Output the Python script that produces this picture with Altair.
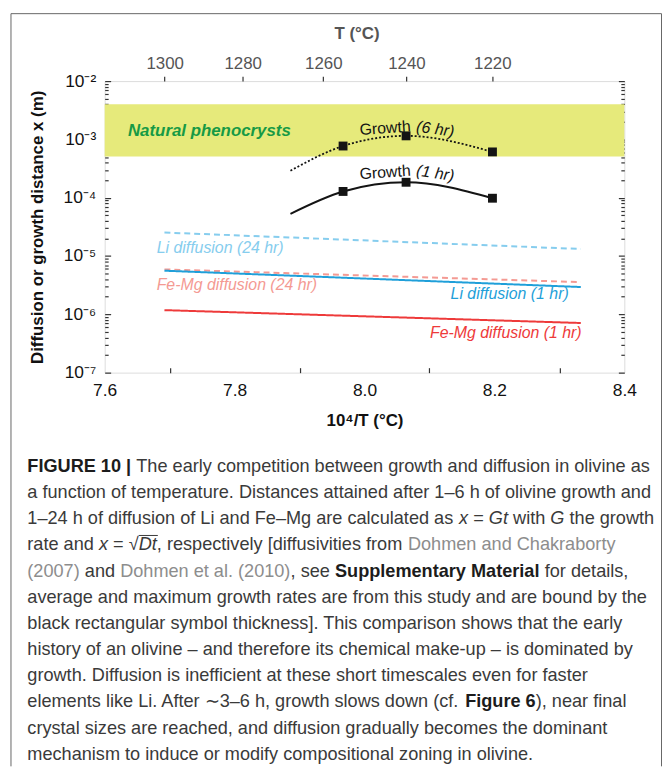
import altair as alt
import pandas as pd

FONT = "Liberation Sans"

# ---------------- values ----------------
X_DIFF = [7.692, 8.333]                 # 10^4/T at the two ends of the diffusion lines
LI_24H = [2.53e-5, 1.32e-5]
FEMG_24H = [5.9e-6, 3.57e-6]
LI_1H = [5.6e-6, 2.94e-6]
FEMG_1H = [1.18e-6, 7.1e-7]

X_GROWTH = [7.886, 7.967, 8.064, 8.197]
GROWTH_1H = [5.3e-5, 1.28e-4, 1.84e-4, 9.8e-5]
GROWTH_6H = [2.9e-4, 7.7e-4, 1.15e-3, 6.1e-4]
X_SYMBOLS = [7.967, 8.064, 8.197]
SYMBOL_1H = [1.28e-4, 1.84e-4, 9.8e-5]
SYMBOL_6H = [7.7e-4, 1.15e-3, 6.1e-4]

PHENOCRYST_RANGE = [5.1e-4, 4.0e-3]

T_TICKS = [1300, 1280, 1260, 1240, 1220]
X_TICKS = [7.6, 7.8, 8.0, 8.2, 8.4]
X_MINOR = [7.7, 7.9, 8.1, 8.3]
Y_EXP = [-7, -6, -5, -4, -3, -2]

DIFF_NAMES = ["Li diffusion (24 hr)", "Fe-Mg diffusion (24 hr)",
              "Li diffusion (1 hr)", "Fe-Mg diffusion (1 hr)"]
DIFF_VALUES = [LI_24H, FEMG_24H, LI_1H, FEMG_1H]

# annotation anchors (data coordinates)
ANN_LEFT = [("Li diffusion (24 hr)", 7.680, 1.39e-5), ("Fe-Mg diffusion (24 hr)", 7.680, 3.23e-6)]
ANN_RIGHT = [("Li diffusion (1 hr)", 8.3144, 2.27e-6), ("Fe-Mg diffusion (1 hr)", 8.3343, 4.84e-7)]
ANN_PHENO = [("Natural phenocrysts", 7.7612, 1.41e-3)]
ANN_GROWTH_WORD = [("Growth", 8.0317, 1.55e-3), ("Growth", 8.0317, 2.70e-4)]
ANN_GROWTH_TIME = [("(6 hr)", 8.1090, 1.50e-3), ("(1 hr)", 8.1090, 2.62e-4)]

CAPTION = [
    [("bold", "FIGURE 10 |"), ("reg", " The early competition between growth and diffusion in olivine as")],
    [("reg", "a function of temperature. Distances attained after 1–6 h of olivine growth and")],
    [("reg", "1–24 h of diffusion of Li and Fe–Mg are calculated as "), ("ital", "x"), ("reg", " = "),
     ("ital", "Gt"), ("reg", " with "), ("ital", "G"), ("reg", " the growth")],
    [("reg", "rate and "), ("ital", "x"), ("reg", " = √"), ("over", "Dt"),
     ("reg", ", respectively [diffusivities from "), ("link", "Dohmen and Chakraborty")],
    [("link", "(2007)"), ("reg", " and "), ("link", "Dohmen et al. (2010)"), ("reg", ", see "),
     ("bold", "Supplementary Material"), ("reg", " for details,")],
    [("reg", "average and maximum growth rates are from this study and are bound by the")],
    [("reg", "black rectangular symbol thickness]. This comparison shows that the early")],
    [("reg", "history of an olivine – and therefore its chemical make-up – is dominated by")],
    [("reg", "growth. Diffusion is inefficient at these short timescales even for faster")],
    [("reg", "elements like Li. After ∼3–6 h, growth slows down (cf. "), ("bold", "Figure 6"),
     ("reg", "), near final")],
    [("reg", "crystal sizes are reached, and diffusion gradually becomes the dominant")],
    [("reg", "mechanism to induce or modify compositional zoning in olivine.")],
]

# ---------------- styles / layout ----------------
W, H = 524, 294
DIFF_COLORS = ["#86cdee", "#f49a93", "#1f9fd9", "#ee3a3a"]
DIFF_DASH = [[6, 4], [6, 4], [1, 0], [1, 0]]
BAND_COLOR = "#e6ea7b"
GREEN = "#179a45"
INK = "#141414"

XS = alt.Scale(domain=[7.6, 8.4], nice=False, zero=False)
YS = alt.Scale(type="log", domain=[1e-7, 1e-2], nice=False)

# ---------------- data frames ----------------
diff_df = pd.DataFrame([{"name": n, "x": x, "y": y}
                        for n, vals in zip(DIFF_NAMES, DIFF_VALUES)
                        for x, y in zip(X_DIFF, vals)])
g1_df = pd.DataFrame({"x": X_GROWTH, "y": GROWTH_1H})
g6_df = pd.DataFrame({"x": X_GROWTH, "y": GROWTH_6H})
sym_df = pd.DataFrame({"x": X_SYMBOLS * 2, "y": SYMBOL_1H + SYMBOL_6H})
band_df = pd.DataFrame({"lo": [PHENOCRYST_RANGE[0]], "hi": [PHENOCRYST_RANGE[1]]})
host_df = pd.DataFrame({"x": [7.6, 8.4], "y": [1e-7, 1e-2]})
one_df = pd.DataFrame({"a": [0]})


def ann_df(items):
    return pd.DataFrame([{"name": t, "x": x, "y": y} for t, x, y in items])


color_enc = alt.Color("name:N", scale=alt.Scale(domain=DIFF_NAMES, range=DIFF_COLORS), legend=None)

band = alt.Chart(band_df).mark_rect(color=BAND_COLOR).encode(
    x=alt.value(0), x2=alt.value(W),
    y=alt.Y("lo:Q", scale=YS, axis=None), y2="hi:Q")

diff_lines = alt.Chart(diff_df).mark_line(strokeWidth=2).encode(
    x=alt.X("x:Q", scale=XS, axis=None),
    y=alt.Y("y:Q", scale=YS, axis=None),
    color=color_enc,
    strokeDash=alt.StrokeDash("name:N", scale=alt.Scale(domain=DIFF_NAMES, range=DIFF_DASH), legend=None),
    detail="name:N")

g6 = alt.Chart(g6_df).mark_line(color=INK, strokeWidth=1.8, strokeDash=[2, 2], interpolate="monotone").encode(
    x=alt.X("x:Q", scale=XS, axis=None), y=alt.Y("y:Q", scale=YS, axis=None))
g1 = alt.Chart(g1_df).mark_line(color=INK, strokeWidth=2, interpolate="monotone").encode(
    x=alt.X("x:Q", scale=XS, axis=None), y=alt.Y("y:Q", scale=YS, axis=None))
squares = alt.Chart(sym_df).mark_square(size=80, color=INK, opacity=1).encode(
    x=alt.X("x:Q", scale=XS, axis=None), y=alt.Y("y:Q", scale=YS, axis=None))


def text_layer(items, colored=True, **mk):
    base = alt.Chart(ann_df(items)).mark_text(font=FONT, baseline="middle", **mk)
    enc = dict(x=alt.X("x:Q", scale=XS, axis=None), y=alt.Y("y:Q", scale=YS, axis=None), text="name:N")
    if colored:
        enc["color"] = color_enc
    return base.encode(**enc)


lab_left = text_layer(ANN_LEFT, fontSize=16, fontStyle="italic", align="left")
lab_right = text_layer(ANN_RIGHT, fontSize=16, fontStyle="italic", align="right")
lab_pheno = text_layer(ANN_PHENO, colored=False, fontSize=17, fontStyle="italic", fontWeight="bold",
                       align="center", color=GREEN)
lab_gw = text_layer(ANN_GROWTH_WORD, colored=False, fontSize=16, align="center", angle=356, color=INK)
lab_gt = text_layer(ANN_GROWTH_TIME, colored=False, fontSize=16, fontStyle="italic", align="center",
                    angle=8, color=INK)


# ---------------- axes (hosted by invisible layers) ----------------
def host(xaxis=None, yaxis=None):
    return alt.Chart(host_df).mark_point(opacity=0).encode(
        x=alt.X("x:Q", scale=XS, axis=xaxis, title=None),
        y=alt.Y("y:Q", scale=YS, axis=yaxis, title=None))


SUP = {"-": "⁻", "0": "⁰", "1": "¹", "2": "²", "3": "³", "4": "⁴", "5": "⁵", "6": "⁶", "7": "⁷", "8": "⁸", "9": "⁹"}
y_label_list = ["10" + "".join(SUP[c] for c in str(e)) for e in Y_EXP]
y_label_expr = "[" + ",".join("'%s'" % s for s in y_label_list) + "][round(log(datum.value)/LN10) + %d]" % (-Y_EXP[0])
y_major = [10.0 ** e for e in Y_EXP]
y_minor = [k * 10.0 ** e for e in Y_EXP[:-1] for k in range(2, 10)]

common = dict(grid=False, domain=False, labelFont=FONT, titleFont=FONT, tickColor="#333", tickWidth=1.2)

ax_xlab = alt.Axis(orient="bottom", values=X_TICKS, format=".1f", ticks=False, tickSize=0, labelPadding=9,
                   labelFontSize=17.5, labelColor="#111", labelFlush=False, labelOverlap=False,
                   title="10⁴/T (°C)", titleFontSize=17, titleFontWeight="bold", titleColor="#111",
                   titleY=48, titleBaseline="middle", **common)
ax_xin = alt.Axis(orient="top", offset=-H, values=X_MINOR, labels=False, tickSize=5, **common)
ax_T = alt.Axis(orient="top", values=[1e4 / t for t in T_TICKS], labelExpr="format(10000/datum.value, '.0f')",
                tickSize=5, labelPadding=4, labelFontSize=17, labelColor="#555", labelFlush=False,
                title="T (°C)", titleFontSize=17, titleFontWeight="bold", titleColor="#555",
                titleY=-48, titleX=254, titleBaseline="middle", **common)
ax_ylab = alt.Axis(orient="left", values=y_major, labelExpr=y_label_expr, ticks=False, tickSize=0,
                   labelPadding=9, labelFontSize=17.5, labelColor="#111", labelFlush=False, labelOverlap=False,
                   title="Diffusion or growth distance x (m)", titleFontSize=17, titleFontWeight="bold",
                   titleColor="#111", titleX=-67.5, titleY=H / 2, titleAngle=270, titleAlign="center",
                   titleBaseline="middle", **common)
ax_yl_major = alt.Axis(orient="right", offset=-W, values=y_major, labels=False, tickSize=6, **common)
ax_yl_minor = alt.Axis(orient="right", offset=-W, values=y_minor, labels=False, tickSize=3.5, **common)
ax_yr_major = alt.Axis(orient="left", offset=-W, values=y_major, labels=False, tickSize=6, **common)
ax_yr_minor = alt.Axis(orient="left", offset=-W, values=y_minor, labels=False, tickSize=3.5, **common)

axis_layers = [host(ax_xlab, ax_ylab), host(ax_xin, ax_yl_major), host(ax_T, ax_yl_minor),
               host(None, ax_yr_major), host(None, ax_yr_minor)]

# ---------------- caption (laid out with Arial/Liberation metrics) ----------------
REG = {c: w for c, w in zip("abcdefghijklmnopqrstuvwxyz",
                            [556, 556, 500, 556, 556, 278, 556, 556, 222, 222, 500, 222, 833,
                             556, 556, 556, 556, 333, 500, 278, 556, 500, 722, 500, 500, 500])}
REG.update({c: w for c, w in zip("ABCDEFGHIJKLMNOPQRSTUVWXYZ",
                                 [667, 667, 722, 722, 667, 611, 778, 722, 278, 500, 667, 556, 833,
                                  722, 778, 667, 778, 722, 667, 611, 722, 667, 944, 667, 667, 611])})
REG.update({d: 556 for d in "0123456789"})
REG.update({" ": 278, ".": 278, ",": 278, "(": 333, ")": 333, "[": 278, "]": 278, "-": 333,
            "–": 556, "=": 584, "|": 260, "∼": 838, "√": 549, ":": 278, "/": 278})
BOLD = {c: w for c, w in zip("abcdefghijklmnopqrstuvwxyz",
                             [556, 611, 556, 611, 556, 333, 611, 611, 278, 278, 556, 278, 889,
                              611, 611, 611, 611, 389, 556, 333, 611, 556, 778, 556, 556, 500])}
BOLD.update({c: w for c, w in zip("ABCDEFGHIJKLMNOPQRSTUVWXYZ",
                                  [722, 722, 722, 722, 667, 611, 778, 722, 278, 556, 722, 611, 833,
                                   722, 778, 667, 778, 722, 667, 611, 722, 667, 944, 667, 667, 611])})
BOLD.update({d: 556 for d in "0123456789"})
BOLD.update({" ": 278, "|": 280, "(": 333, ")": 333, ".": 278, ",": 278})

CAP_SIZE = 18.3
CAP_X0 = 27.5 - 105.5
CAP_Y0 = 467 - 78
CAP_DY = 26.4


def twidth(s, table):
    return sum(table.get(ch, 556) for ch in s) / 1000.0 * CAP_SIZE


cap_rows = []
for i, line in enumerate(CAPTION):
    pos = 0.0
    for style, s in line:
        table = BOLD if style == "bold" else REG
        lead = len(s) - len(s.lstrip(" "))
        txt = s.strip(" ")
        if txt:
            cap_rows.append({"style": style, "text": txt,
                             "cx": CAP_X0 + pos + twidth(s[:lead], table),
                             "cy": CAP_Y0 + i * CAP_DY,
                             "w": twidth(txt, table)})
        pos += twidth(s, table)
cap_df = pd.DataFrame(cap_rows)
cap_df["cx2"] = cap_df["cx"] + cap_df["w"] + 1
cap_df["cyo"] = cap_df["cy"] - 10


def cap_layer(styles, color, **mk):
    return alt.Chart(cap_df).transform_filter(
        alt.FieldOneOfPredicate(field="style", oneOf=styles)
    ).mark_text(font=FONT, fontSize=CAP_SIZE, align="left", baseline="middle", color=color, **mk).encode(
        x=alt.X("cx:Q", scale=None, axis=None),
        y=alt.Y("cy:Q", scale=None, axis=None),
        text="text:N")


cap_layers = [
    cap_layer(["reg"], "#3a3a3a"),
    cap_layer(["ital", "over"], "#3a3a3a", fontStyle="italic"),
    cap_layer(["link"], "#8d8d8d"),
    cap_layer(["bold"], "#1c1c1c", fontWeight="bold"),
]
overline = alt.Chart(cap_df).transform_filter(alt.datum.style == "over").mark_rule(
    color="#3a3a3a", strokeWidth=1).encode(
    x=alt.X("cx:Q", scale=None, axis=None), x2="cx2:Q", y=alt.Y("cyo:Q", scale=None, axis=None))

# ---------------- outer page border ----------------
BL, BT, BR, BB = 11 - 105.5, 10 - 78, 667 - 105.5, 769 - 78
border = [
    alt.Chart(one_df).mark_rule(color="#666", strokeWidth=1).encode(
        x=alt.value(BL), y=alt.value(BT), y2=alt.value(BB)),
    alt.Chart(one_df).mark_rule(color="#666", strokeWidth=1).encode(
        x=alt.value(BR), y=alt.value(BT), y2=alt.value(BB)),
    alt.Chart(one_df).mark_rule(color="#666", strokeWidth=1).encode(
        x=alt.value(BL), x2=alt.value(BR), y=alt.value(BT)),
]

chart = alt.layer(
    band, diff_lines, g6, g1, squares,
    lab_left, lab_right, lab_pheno, lab_gw, lab_gt,
    *axis_layers, *cap_layers, overline, *border
).resolve_scale(
    x="independent", y="independent"
).resolve_axis(
    x="independent", y="independent"
).properties(
    width=W, height=H,
    padding={"left": 2.5, "top": 1.5, "right": 0, "bottom": 0},
    background="white",
).configure_view(
    stroke="#333", strokeWidth=1.6
).configure(font=FONT)

chart.save("out.html", embed_options={"renderer": "svg", "actions": False})
